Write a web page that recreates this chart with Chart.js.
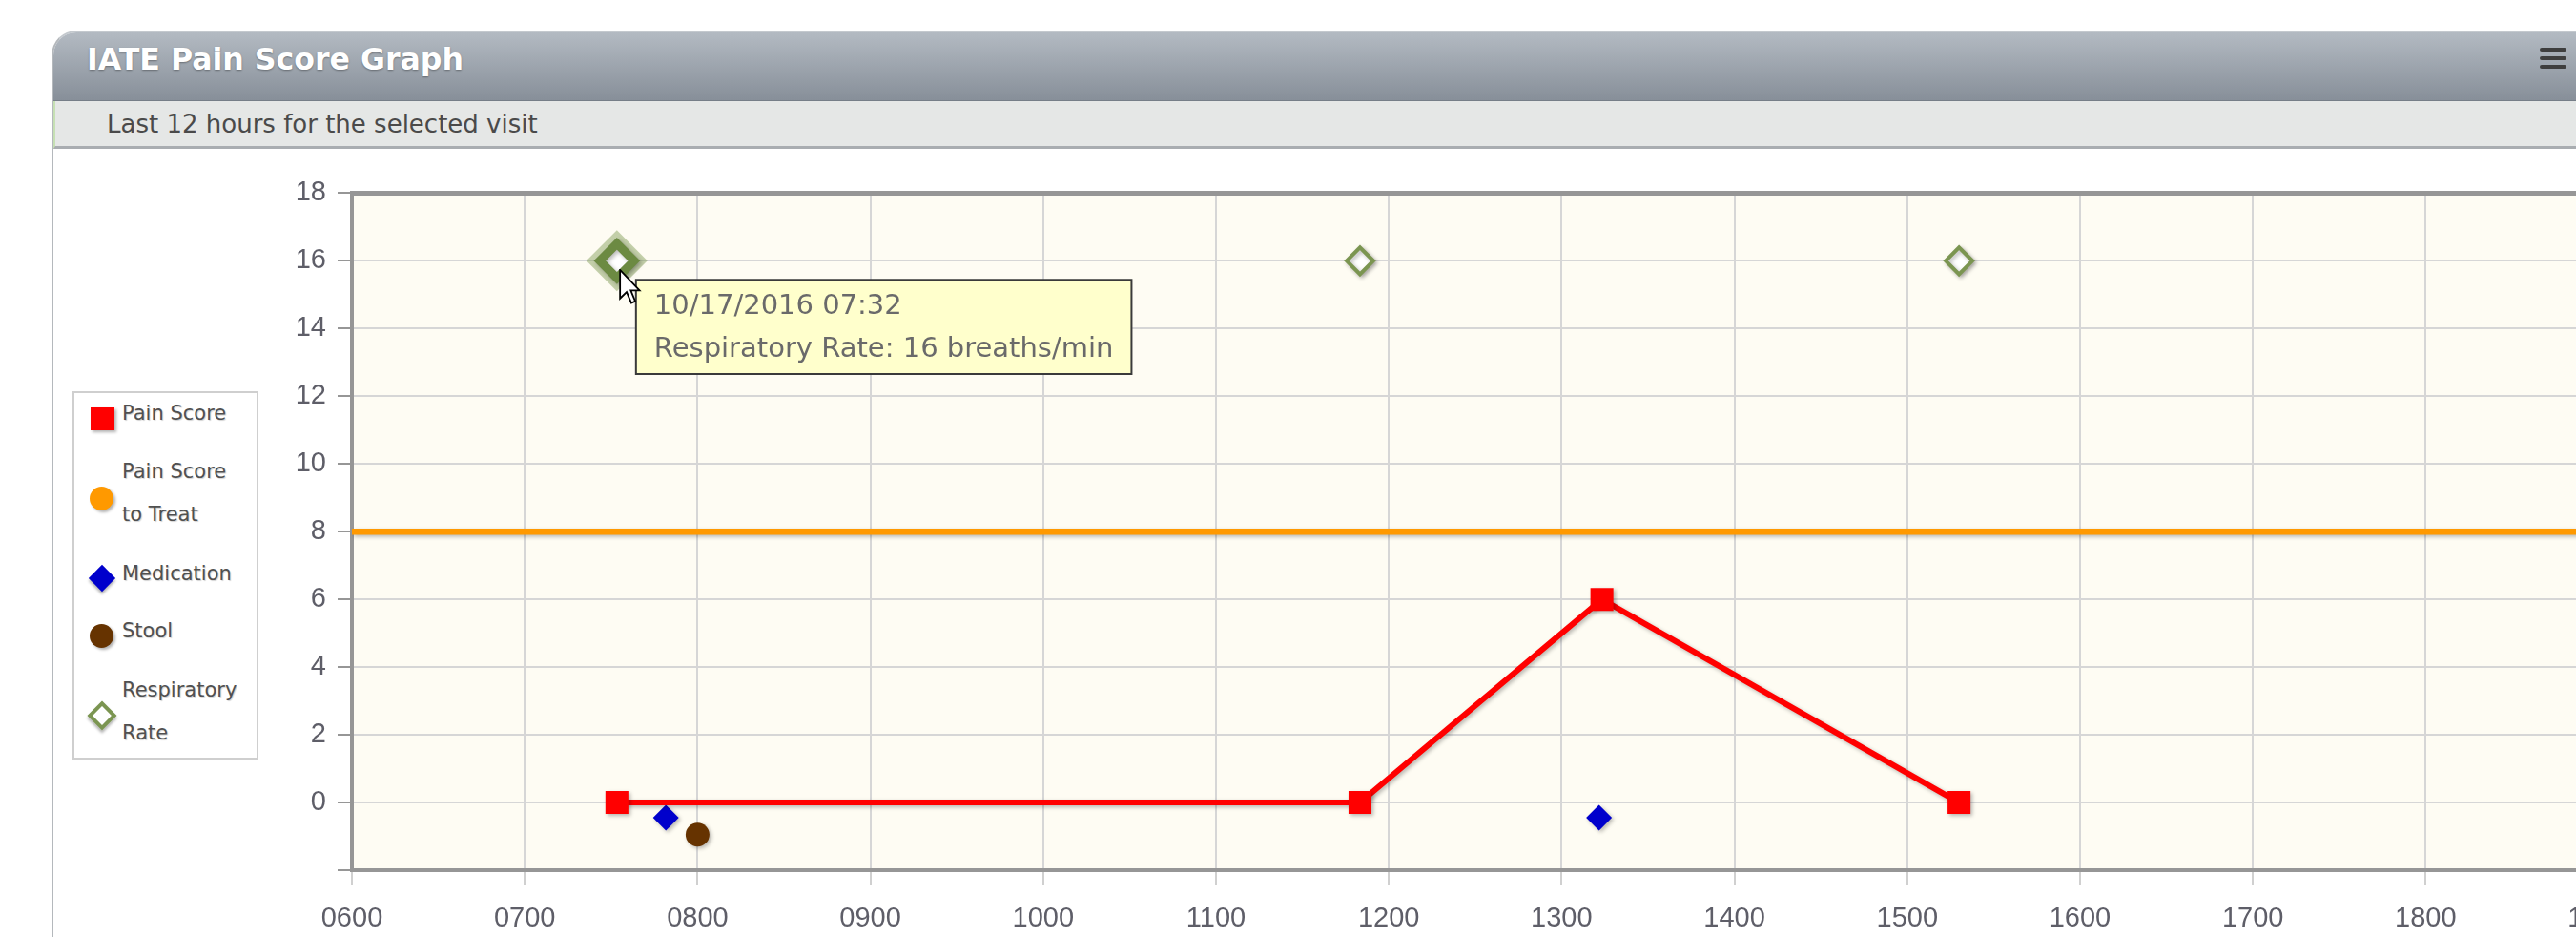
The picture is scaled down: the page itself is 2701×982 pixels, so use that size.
<!DOCTYPE html>
<html>
<head>
<meta charset="utf-8">
<title>IATE Pain Score Graph</title>
<script src="https://cdn.jsdelivr.net/npm/chart.js@4.4.1/dist/chart.umd.min.js"></script>
<style>
  html, body { margin: 0; padding: 0; }
  body { width: 2701px; height: 982px; overflow: hidden; background: #fff; position: relative; font-family: "DejaVu Sans", sans-serif; }
  #panel { position: absolute; left: 54px; top: 32px; width: 3000px; height: 1100px; box-sizing: border-box;
           border: 2px solid #b4b8bc; border-top-color: #c4c9ce; border-top-left-radius: 26px; overflow: hidden; background: #fff; }
  #panelHead { height: 71px; background: linear-gradient(#b3bac2, #878f99); border-bottom: 1px solid #767e88; }
  #panelSub { height: 47px; background: #e5e7e6; border-bottom: 3px solid #a9adb1; border-left: 2px solid #c6e0b4; }
  .title { position: absolute; left: 91px; top: 47px; font-size: 31.6px; line-height: 31px; font-weight: bold; color: #fff;
           text-shadow: 0 1px 2px rgba(0,0,0,.35); white-space: nowrap; }
  .subtitle { position: absolute; left: 112px; top: 117px; font-size: 26px; line-height: 26px; color: #4a4a4a; white-space: nowrap; }
  .menu { position: absolute; left: 2663px; width: 28px; height: 4px; background: #3e3e3e; border-radius: 2px; }

  #legend { position: absolute; left: 76px; top: 410px; width: 195px; height: 386px; box-sizing: border-box; border: 2px solid #cfcfcf; }
  .lg { position: absolute; left: 128px; font-size: 21px; line-height: 45px; color: #505050; white-space: nowrap;
        text-shadow: 1px 1px 1px rgba(0,0,0,.18); }
  .mk { position: absolute; box-shadow: 2px 2px 3px rgba(0,0,0,.3); }

  #chartBox { position: absolute; left: 280px; top: 173px; width: 2677px; height: 809px; }
  #cursor { position: absolute; left: 649px; top: 282px; }
</style>
</head>
<body>
<div id="panel">
  <div id="panelHead"></div>
  <div id="panelSub"></div>
</div>
<div class="title">IATE Pain Score Graph</div>
<div class="subtitle">Last 12 hours for the selected visit</div>
<div class="menu" style="top:50px"></div>
<div class="menu" style="top:59px"></div>
<div class="menu" style="top:68px"></div>

<div id="legend"></div>
<div class="mk" style="left:95px; top:427px; width:25px; height:24px; background:#ff0000;"></div>
<div class="lg" style="top:411px">Pain Score</div>
<div class="mk" style="left:94px; top:510px; width:25px; height:25px; border-radius:50%; background:#ff9900;"></div>
<div class="lg" style="top:472px">Pain Score</div>
<div class="lg" style="top:517px">to Treat</div>
<div class="mk" style="left:97px; top:596px; width:20px; height:20px; background:#0000cc; transform:rotate(45deg);"></div>
<div class="lg" style="top:579px">Medication</div>
<div class="mk" style="left:94px; top:654px; width:25px; height:25px; border-radius:50%; background:#663300;"></div>
<div class="lg" style="top:639px">Stool</div>
<div class="mk" style="left:96px; top:739px; width:22px; height:22px; box-sizing:border-box; border:4px solid #7b9551; background:#fff; transform:rotate(45deg);"></div>
<div class="lg" style="top:701px">Respiratory</div>
<div class="lg" style="top:746px">Rate</div>

<div id="chartBox"><canvas id="painChart" width="2677" height="809"></canvas></div>

<svg id="cursor" width="24" height="38" viewBox="0 0 13 21">
  <path d="M0.5 0.5 L0.5 17 L4.3 13.3 L7 19.6 L9.3 18.6 L6.7 12.4 L11.8 12.4 Z" fill="#fff" stroke="#000" stroke-width="1"/>
</svg>

<script>
const visitDate = '10/17/2016';

const painTimes = ['07:32', '11:50', '13:14', '15:18'];
const painValues = [0, 0, 6, 0];

const treatLevel = 8;

const medTimes = ['07:49', '13:13'];
const medValues = [-0.45, -0.45];

const stoolTimes = ['08:00'];
const stoolValues = [-0.95];

const rrTimes = ['07:32', '11:50', '15:18'];
const rrValues = [16, 16, 16];

const xTickLabels = ['0600', '0700', '0800', '0900', '1000', '1100', '1200', '1300',
                     '1400', '1500', '1600', '1700', '1800', '1900', '2000'];
const yMin = -2;
const yMax = 18;

const xMin = 6;
const xMax = 20;

function toHours(t) {
  const parts = t.split(':');
  return Number(parts[0]) + Number(parts[1]) / 60;
}

function toPoints(times, values) {
  return times.map((t, i) => ({ x: toHours(t), y: values[i], t: t }));
}

const TIP_FONT = '"DejaVu Sans", sans-serif';
const TICK_FONT = '"Liberation Sans", Arial, sans-serif';
const tickColor = '#5e5e68';

// cream plot background and the top frame line
const plotFrame = {
  id: 'plotFrame',
  beforeDraw(chart) {
    const a = chart.chartArea;
    const ctx = chart.ctx;
    ctx.save();
    ctx.fillStyle = '#fefcf3';
    ctx.fillRect(a.left, a.top, a.right - a.left, a.bottom - a.top);
    ctx.restore();
  },
  beforeDatasetsDraw(chart) {
    const a = chart.chartArea;
    const ctx = chart.ctx;
    ctx.save();
    ctx.strokeStyle = '#969696';
    ctx.lineWidth = 5;
    ctx.beginPath();
    ctx.moveTo(a.left - 2, a.top);
    ctx.lineTo(a.right, a.top);
    ctx.stroke();
    ctx.restore();
  }
};

// halo behind the hovered point
const hoverHalo = {
  id: 'hoverHalo',
  beforeDatasetsDraw(chart) {
    const ctx = chart.ctx;
    chart.getActiveElements().forEach(a => {
      const x = a.element.x, y = a.element.y, r = 32;
      ctx.save();
      ctx.fillStyle = 'rgba(124,154,80,0.45)';
      ctx.beginPath();
      ctx.moveTo(x, y - r);
      ctx.lineTo(x + r, y);
      ctx.lineTo(x, y + r);
      ctx.lineTo(x - r, y);
      ctx.closePath();
      ctx.fill();
      ctx.restore();
    });
  }
};

// soft drop shadow on every series
const seriesShadow = {
  id: 'seriesShadow',
  beforeDatasetDraw(chart) {
    const ctx = chart.ctx;
    ctx.save();
    ctx.shadowColor = 'rgba(0,0,0,0.28)';
    ctx.shadowBlur = 4;
    ctx.shadowOffsetX = 2;
    ctx.shadowOffsetY = 2;
  },
  afterDatasetDraw(chart) {
    chart.ctx.restore();
  }
};

Chart.Tooltip.positioners.belowRight = function(items) {
  if (!items.length) return false;
  const el = items[0].element;
  return { x: el.x + 20, y: el.y + 20 };
};

const ctx = document.getElementById('painChart').getContext('2d');
const chart = new Chart(ctx, {
  type: 'line',
  data: {
    datasets: [
      {
        label: 'Respiratory Rate',
        unit: 'breaths/min',
        data: toPoints(rrTimes, rrValues),
        showLine: false,
        pointStyle: 'rectRot',
        pointRadius: 14,
        pointBorderWidth: 4,
        pointBorderColor: '#7b9551',
        pointBackgroundColor: '#ffffff',
        pointHoverRadius: 18,
        pointHoverBorderWidth: 9,
        pointHoverBorderColor: '#6c8a42',
        pointHoverBackgroundColor: '#ffffff',
        order: 0
      },
      {
        label: 'Pain Score',
        unit: '',
        data: toPoints(painTimes, painValues),
        borderColor: '#ff0000',
        backgroundColor: '#ff0000',
        borderWidth: 6,
        pointStyle: 'rect',
        pointRadius: 17,
        pointBorderWidth: 0,
        pointBackgroundColor: '#ff0000',
        order: 1
      },
      {
        label: 'Medication',
        unit: '',
        data: toPoints(medTimes, medValues),
        showLine: false,
        pointStyle: 'rectRot',
        pointRadius: 13.5,
        pointBorderWidth: 0,
        pointBackgroundColor: '#0000cc',
        order: 2
      },
      {
        label: 'Stool',
        unit: '',
        data: toPoints(stoolTimes, stoolValues),
        showLine: false,
        pointStyle: 'circle',
        pointRadius: 12.5,
        pointBorderWidth: 0,
        pointBackgroundColor: '#663300',
        order: 3
      },
      {
        label: 'Pain Score to Treat',
        unit: '',
        data: [{ x: xMin, y: treatLevel }, { x: xMax, y: treatLevel }],
        borderColor: '#ff9900',
        borderWidth: 6.5,
        pointRadius: 0,
        pointHoverRadius: 0,
        order: 4
      }
    ]
  },
  options: {
    responsive: false,
    animation: false,
    layout: { padding: { top: 20, right: 30, left: 0, bottom: 0 } },
    scales: {
      x: {
        type: 'linear',
        min: xMin,
        max: xMax,
        afterFit(scale) { scale.height = 70; },
        ticks: {
          stepSize: 1,
          padding: 19,
          color: tickColor,
          font: { family: TICK_FONT, size: 29 },
          maxRotation: 0,
          autoSkip: false,
          callback: (value, index) => xTickLabels[index]
        },
        grid: { color: '#d6d6d6', lineWidth: 2, tickLength: 15, tickColor: '#d0d0d0' },
        border: { color: '#969696', width: 4 }
      },
      y: {
        min: yMin,
        max: yMax,
        afterFit(scale) { scale.width = 89; },
        ticks: {
          stepSize: 2,
          padding: 12,
          color: tickColor,
          font: { family: TICK_FONT, size: 29 },
          callback: value => (value < 0 ? '' : value)
        },
        grid: { color: '#d6d6d6', lineWidth: 2, tickLength: 15, tickColor: '#969696' },
        border: { color: '#969696', width: 4 }
      }
    },
    plugins: {
      legend: { display: false },
      tooltip: {
        position: 'belowRight',
        xAlign: 'left',
        yAlign: 'top',
        caretSize: 0,
        caretPadding: 0,
        cornerRadius: 0,
        backgroundColor: '#ffffcc',
        borderColor: '#3a3a3a',
        borderWidth: 2,
        titleColor: '#6a6a6a',
        bodyColor: '#6a6a6a',
        titleFont: { family: TIP_FONT, size: 29, weight: 'normal' },
        bodyFont: { family: TIP_FONT, size: 29 },
        padding: { top: 11, left: 19, right: 19, bottom: 8 },
        titleMarginBottom: 10,
        displayColors: false,
        callbacks: {
          title: items => visitDate + ' ' + items[0].raw.t,
          label: item => item.dataset.label + ': ' + item.raw.y + (item.dataset.unit ? ' ' + item.dataset.unit : '')
        }
      }
    }
  },
  plugins: [plotFrame, hoverHalo, seriesShadow]
});

// the screenshot shows the first respiratory rate reading hovered
const hovered = [{ datasetIndex: 0, index: 0 }];
chart.setActiveElements(hovered);
const el = chart.getDatasetMeta(0).data[0];
chart.tooltip.setActiveElements(hovered, { x: el.x, y: el.y });
chart.update();
</script>
</body>
</html>
